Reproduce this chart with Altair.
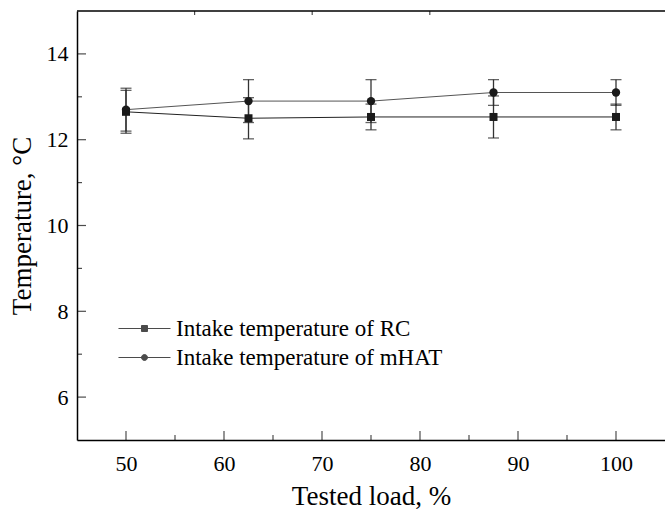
import altair as alt
import pandas as pd

# ---- data ----
x_load = [50, 62.5, 75, 87.5, 100]
rc_mean = [12.65, 12.50, 12.53, 12.53, 12.53]
rc_err = [0.50, 0.48, 0.30, 0.49, 0.30]
mhat_mean = [12.70, 12.90, 12.90, 13.10, 13.10]
mhat_err = [0.50, 0.50, 0.50, 0.30, 0.30]
series_names = ["Intake temperature of RC", "Intake temperature of mHAT"]

x_major = [50, 60, 70, 80, 90, 100]
x_minor = [55, 65, 75, 85, 95]
y_major = [6, 8, 10, 12, 14]
y_minor = [7, 9, 11, 13]
top_ticks = [57, 69, 81]

FONT = "Liberation Serif"

rows = []
for i, x in enumerate(x_load):
    rows.append({"load": x, "temp": rc_mean[i], "lo": rc_mean[i] - rc_err[i],
                 "hi": rc_mean[i] + rc_err[i], "series": series_names[0]})
    rows.append({"load": x, "temp": mhat_mean[i], "lo": mhat_mean[i] - mhat_err[i],
                 "hi": mhat_mean[i] + mhat_err[i], "series": series_names[1]})
df = pd.DataFrame(rows)

xscale = alt.Scale(domain=[45, 105], nice=False, zero=False)
yscale = alt.Scale(domain=[5, 15], nice=False, zero=False)

xaxis = alt.Axis(values=x_major, ticks=False, tickSize=0, grid=False,
                 labelFont=FONT, labelFontSize=22, labelColor="black",
                 labelPadding=13, title="Tested load, %", titlePadding=9)
yaxis = alt.Axis(values=y_major, ticks=False, tickSize=0, grid=False,
                 labelFont=FONT, labelFontSize=22, labelColor="black",
                 labelPadding=9, title="Temperature, °C", titlePadding=10)

X = alt.X("load:Q", scale=xscale, axis=xaxis)
Y = alt.Y("temp:Q", scale=yscale, axis=yaxis)

base = alt.Chart(df)
rc_base = base.transform_filter(alt.datum.series == series_names[0])
mh_base = base.transform_filter(alt.datum.series == series_names[1])

line_rc = rc_base.mark_line(strokeWidth=1, color="#222222").encode(x=X, y=Y)
line_mh = mh_base.mark_line(strokeWidth=1, color="#555555").encode(x="load:Q", y="temp:Q")

err_rule = base.mark_rule(color="#333333", strokeWidth=1.3).encode(
    x="load:Q", y="lo:Q", y2="hi:Q")
cap_lo = base.mark_tick(orient="horizontal", size=11, thickness=1.3, color="#222222").encode(
    x="load:Q", y="lo:Q")
cap_hi = base.mark_tick(orient="horizontal", size=11, thickness=1.3, color="#222222").encode(
    x="load:Q", y="hi:Q")

sq = rc_base.mark_point(shape="square", filled=True, size=64, color="#1a1a1a", opacity=1).encode(
    x="load:Q", y="temp:Q")
ci = mh_base.mark_point(shape="circle", filled=True, size=70, color="#1a1a1a", opacity=1).encode(
    x="load:Q", y="temp:Q")

# inward axis ticks
def ticks_x(vals, at, length, offset):
    return alt.Chart(pd.DataFrame({"v": vals})).mark_tick(
        orient="vertical", size=length, thickness=1.2, color="black", yOffset=offset
    ).encode(x="v:Q", y=alt.datum(at))

def ticks_y(vals, length):
    return alt.Chart(pd.DataFrame({"v": vals})).mark_tick(
        orient="horizontal", size=length, thickness=1.2, color="black", xOffset=length / 2
    ).encode(y="v:Q", x=alt.datum(45))

tx_major = ticks_x(x_major, 5, 9, -4.5)
tx_minor = ticks_x(x_minor, 5, 5, -2.5)
tx_top = ticks_x(top_ticks, 15, 4, 2)
ty_major = ticks_y(y_major, 9)
ty_minor = ticks_y(y_minor, 5)

top_line = alt.Chart(pd.DataFrame({"a": [45], "b": [105], "c": [15]})).mark_rule(
    color="black", strokeWidth=1.5).encode(x="a:Q", x2="b:Q", y="c:Q")


# legend symbols: a line with a marker in its middle (paths in symbol units)
def legend_path(kind, cx=-4.67, half=8.67):
    p = f"M{cx - half:.2f},0H{cx + half:.2f}"
    for r in (1.0, 0.67, 0.33):
        if kind == "square":
            p += f"M{cx - r:.2f},{-r:.2f}H{cx + r:.2f}V{r:.2f}H{cx - r:.2f}Z"
        else:
            p += (f"M{cx + r:.2f},0A{r:.2f},{r:.2f},0,1,1,{cx - r:.2f},0"
                  f"A{r:.2f},{r:.2f},0,1,1,{cx + r:.2f},0Z")
    return p


path_sq = legend_path("square")
path_ci = legend_path("circle")
legend_df = pd.DataFrame({"lab": series_names, "lx": [50, 50], "ly": [100, 100]})
legend_layer = alt.Chart(legend_df).mark_point(
    filled=False, color="black", fill="black", strokeWidth=1, clip=True
).encode(
    x="lx:Q", y="ly:Q",
    shape=alt.Shape("lab:N", scale=alt.Scale(domain=series_names, range=[path_sq, path_ci]),
                    legend=alt.Legend(title=None, orient="bottom-left", offset=70, padding=0,
                                      symbolSize=36, symbolStrokeWidth=1,
                                      labelOffset=6, rowPadding=5, labelLimit=600,
                                      labelFont=FONT, labelFontSize=23, labelColor="black")),
)

chart = alt.layer(
    line_rc, line_mh, err_rule, cap_lo, cap_hi, sq, ci,
    tx_major, tx_minor, tx_top, ty_major, ty_minor, top_line, legend_layer
).properties(
    width=588, height=429,
    autosize=alt.AutoSizeParams(type="none"),
    padding={"left": 77, "top": 11, "right": 0, "bottom": 72},
    background="white",
).configure(font=FONT).configure_view(stroke=None).configure_axis(
    labelFont=FONT, labelFontSize=22, labelColor="black",
    titleFont=FONT, titleFontSize=27, titleFontWeight="normal", titleColor="black",
    domainColor="black", domainWidth=1.5,
).configure_legend(
    labelFont=FONT, labelFontSize=23, labelColor="black",
)

chart.save("out.html", embed_options={"renderer": "svg", "actions": False})
